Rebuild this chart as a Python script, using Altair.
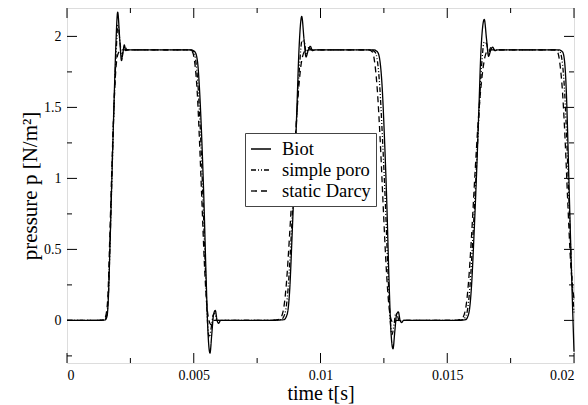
import altair as alt
import pandas as pd

# ---- data ----
biot_t = [0, 0.0012, 0.00150, 0.00158, 0.00163, 0.00170, 0.00177, 0.00185, 0.00192, 0.00200, 0.00208,
          0.00215, 0.00221, 0.00226, 0.00232, 0.0024, 0.0049, 0.00505, 0.00515, 0.00522, 0.00530,
          0.00540, 0.00548, 0.00556, 0.00564, 0.00571, 0.00578, 0.00585, 0.00592, 0.00598, 0.00606,
          0.0080, 0.00855, 0.00868, 0.00878, 0.00888, 0.00898, 0.00907, 0.00915, 0.00926, 0.00935,
          0.00943, 0.00951, 0.00960, 0.00968, 0.0098, 0.0121, 0.01225, 0.01235, 0.01243, 0.01252,
          0.01262, 0.01270, 0.01278, 0.01286, 0.01293, 0.01300, 0.01307, 0.01314, 0.0132, 0.01328,
          0.0154, 0.01572, 0.01585, 0.01596, 0.01606, 0.01616, 0.01625, 0.01633, 0.01646, 0.01655,
          0.01663, 0.01671, 0.01679, 0.01688, 0.0170, 0.0194, 0.01955, 0.01963, 0.01970, 0.01976,
          0.01982, 0.01990, 0.02]
biot_p = [0, 0, 0.003, 0.03, 0.15, 0.55, 1.0, 1.5, 1.9, 2.17, 1.98,
          1.83, 1.89, 1.94, 1.9, 1.905, 1.905, 1.89, 1.82, 1.65, 1.35,
          0.85, 0.35, -0.08, -0.23, -0.1, 0.04, 0.07, 0.0, -0.02, 0.0,
          0.0, 0.005, 0.04, 0.2, 0.6, 1.05, 1.5, 1.9, 2.14, 1.98,
          1.855, 1.9, 1.93, 1.9, 1.905, 1.905, 1.89, 1.82, 1.65, 1.3,
          0.8, 0.3, -0.08, -0.2, -0.08, 0.04, 0.06, 0.0, -0.015, 0.0,
          0.0, 0.005, 0.05, 0.25, 0.62, 1.05, 1.5, 1.9, 2.12, 1.98,
          1.86, 1.9, 1.925, 1.9, 1.905, 1.905, 1.89, 1.82, 1.6, 1.25,
          0.85, 0.35, -0.22]

poro_t = [0, 0.0012, 0.00148, 0.00157, 0.00163, 0.00170, 0.00177, 0.00185, 0.00193, 0.00201, 0.00209,
          0.00216, 0.00223, 0.00229, 0.00236, 0.00485, 0.00500, 0.00510, 0.00518, 0.00527, 0.00537,
          0.00546, 0.00554, 0.00561, 0.00569, 0.00577, 0.00584, 0.00591, 0.00600, 0.0080, 0.00845,
          0.00860, 0.00872, 0.00884, 0.00896, 0.00907, 0.00917, 0.00927, 0.00936, 0.00944, 0.00952,
          0.00961, 0.0097, 0.0120, 0.01215, 0.01225, 0.01234, 0.01244, 0.01256, 0.01266, 0.01275,
          0.01282, 0.0129, 0.01297, 0.01304, 0.01312, 0.0132, 0.0153, 0.01562, 0.01577, 0.01590,
          0.01602, 0.01614, 0.01625, 0.01635, 0.01646, 0.01655, 0.01663, 0.01671, 0.0168, 0.0169,
          0.0193, 0.01945, 0.01955, 0.01964, 0.01973, 0.01982, 0.01991, 0.02]
poro_p = [0, 0, 0.004, 0.04, 0.17, 0.56, 1.0, 1.48, 1.85, 2.08, 1.96,
          1.86, 1.91, 1.93, 1.905, 1.905, 1.89, 1.8, 1.62, 1.3, 0.82,
          0.35, 0.0, -0.12, -0.05, 0.04, 0.05, 0.0, 0.0, 0.0, 0.006,
          0.05, 0.22, 0.58, 1.02, 1.45, 1.78, 1.97, 1.96, 1.88, 1.92,
          1.91, 1.905, 1.905, 1.89, 1.82, 1.64, 1.3, 0.82, 0.35, 0.0,
          -0.1, -0.03, 0.05, 0.03, -0.01, 0.0, 0.0, 0.006, 0.05, 0.25,
          0.62, 1.04, 1.45, 1.78, 1.96, 1.95, 1.88, 1.92, 1.91, 1.905,
          1.905, 1.89, 1.8, 1.58, 1.2, 0.75, 0.33, 0.05]

darcy_t = [0, 0.0012, 0.00146, 0.00155, 0.00162, 0.00169, 0.00176, 0.00184, 0.00192, 0.0020, 0.0021,
           0.0022, 0.0048, 0.00495, 0.00505, 0.00514, 0.00523, 0.00533, 0.00542, 0.00551, 0.0056,
           0.00568, 0.00576, 0.0080, 0.00838, 0.00852, 0.00865, 0.00878, 0.00891, 0.00904, 0.00916,
           0.00928, 0.0094, 0.0095, 0.0119, 0.01205, 0.01215, 0.01225, 0.01236, 0.01248, 0.01259,
           0.0127, 0.0128, 0.0129, 0.0130, 0.0152, 0.01555, 0.0157, 0.01583, 0.01596, 0.01609,
           0.01622, 0.01635, 0.01648, 0.0166, 0.0167, 0.0192, 0.01935, 0.01945, 0.01955, 0.01965,
           0.01975, 0.01987, 0.02]
darcy_p = [0, 0, 0.005, 0.05, 0.2, 0.6, 1.02, 1.45, 1.75, 1.87, 1.9,
           1.905, 1.905, 1.89, 1.8, 1.6, 1.25, 0.8, 0.4, 0.12, 0.0,
           -0.03, 0.0, 0.0, 0.008, 0.06, 0.25, 0.6, 1.0, 1.38, 1.68,
           1.85, 1.9, 1.905, 1.905, 1.89, 1.8, 1.6, 1.25, 0.78, 0.38,
           0.1, 0.0, -0.02, 0.0, 0.0, 0.008, 0.06, 0.25, 0.6, 1.02,
           1.4, 1.68, 1.85, 1.9, 1.905, 1.905, 1.89, 1.8, 1.6, 1.27,
           0.85, 0.4, 0.15]

series_names = ["Biot", "simple poro", "static Darcy"]
x_major = [0, 0.005, 0.01, 0.015, 0.02]
x_minor = [0.0025, 0.0075, 0.0125, 0.0175]
y_major = [0, 0.5, 1, 1.5, 2]
y_minor = [-0.25, 0.25, 0.75, 1.25, 1.75]

rows = []
for name, ts, ps in zip(series_names, [biot_t, poro_t, darcy_t], [biot_p, poro_p, darcy_p]):
    for i, (t, p) in enumerate(zip(ts, ps)):
        rows.append({"series": name, "t": t, "p": p, "order": i})
df = pd.DataFrame(rows)

W, H = 507, 355
FONT = "Liberation Serif"
xscale = alt.Scale(domain=[0, 0.02], nice=False, zero=False)
yscale = alt.Scale(domain=[-0.3, 2.2], nice=False, zero=False)

lines = alt.Chart(df).mark_line(interpolate="monotone", strokeWidth=1.3, color="black").encode(
    x=alt.X("t:Q", scale=xscale, title="time t[s]",
            axis=alt.Axis(values=x_major, format="~g", ticks=False, domain=False, grid=False,
                          labelFont=FONT, labelFontSize=14, labelColor="black", labelPadding=5,
                          titleFont=FONT, titleFontSize=20, titleFontWeight="normal",
                          titleColor="black", titlePadding=1)),
    y=alt.Y("p:Q", scale=yscale, title="pressure p [N/m²]",
            axis=alt.Axis(values=y_major, format="~g", ticks=False, domain=False, grid=False,
                          labelFont=FONT, labelFontSize=14, labelColor="black", labelPadding=6,
                          titleFont=FONT, titleFontSize=21, titleFontWeight="normal",
                          titleColor="black", titlePadding=3)),
    strokeDash=alt.StrokeDash("series:N",
                              scale=alt.Scale(domain=series_names,
                                              range=[[1, 0], [5, 2, 1, 2, 1, 2], [6, 4]]),
                              legend=alt.Legend(title=None, orient="none", legendX=178, legendY=125,
                                                labelFont=FONT, labelFontSize=18.5, labelColor="black",
                                                symbolType="stroke", symbolSize=400,
                                                symbolStrokeColor="black", symbolStrokeWidth=1.3,
                                                labelOffset=10, padding=5, rowPadding=0,
                                                strokeColor="#444", fillColor="white")),
    order="order:Q",
)

def tick_layer(vals, axis, side, length):
    d = pd.DataFrame({"v": vals})
    base = alt.Chart(d).mark_rule(color="black", strokeWidth=1)
    if axis == "x":
        if side == "bottom":
            return base.encode(x=alt.X("v:Q", scale=xscale), y=alt.value(H), y2=alt.value(H - length))
        return base.encode(x=alt.X("v:Q", scale=xscale), y=alt.value(0), y2=alt.value(length))
    if side == "left":
        return base.encode(y=alt.Y("v:Q", scale=yscale), x=alt.value(0), x2=alt.value(length))
    return base.encode(y=alt.Y("v:Q", scale=yscale), x=alt.value(W), x2=alt.value(W - length))

ticks = []
for side in ["bottom", "top"]:
    ticks.append(tick_layer(x_major, "x", side, 10))
    ticks.append(tick_layer(x_minor, "x", side, 5))
for side in ["left", "right"]:
    ticks.append(tick_layer(y_major, "y", side, 10))
    ticks.append(tick_layer(y_minor, "y", side, 5))

chart = alt.layer(lines, *ticks).properties(
    width=W, height=H,
    autosize=alt.AutoSizeParams(type="none"),
    padding={"left": 59, "top": 0, "right": 6, "bottom": 42},
).configure_view(stroke="black", strokeWidth=1.5).configure(background="white")

chart.save("out.html", embed_options={"renderer": "svg", "actions": False})
